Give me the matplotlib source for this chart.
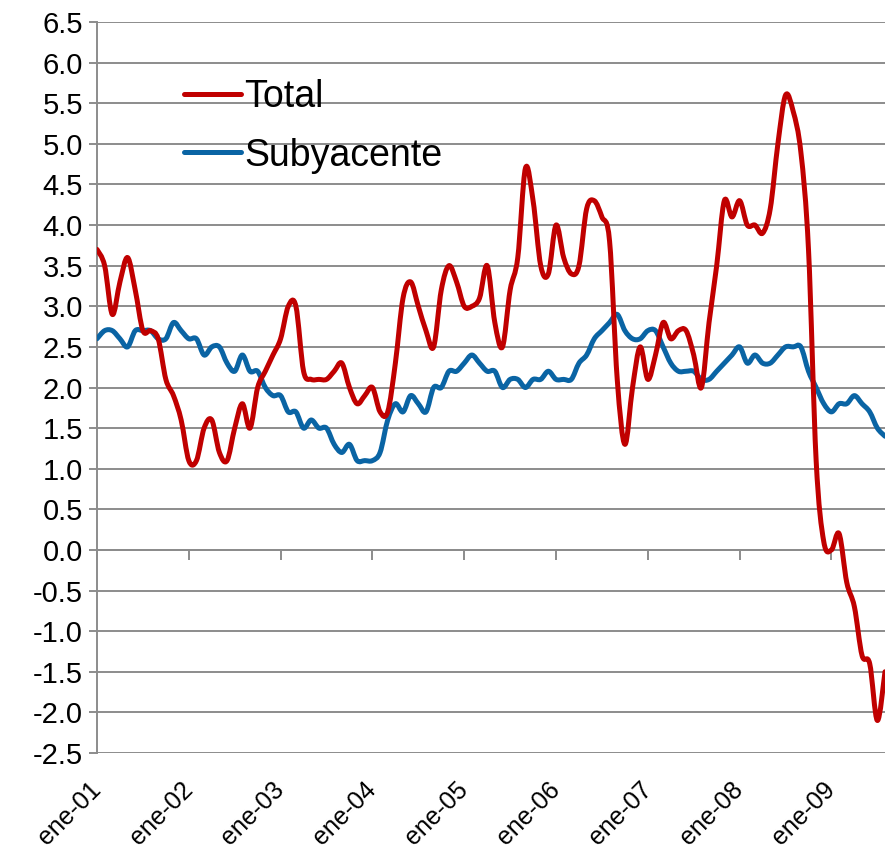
import numpy as np
import matplotlib
matplotlib.use('Agg')
import matplotlib.pyplot as plt
import matplotlib.ticker as mticker
from matplotlib.path import Path
from matplotlib.patches import PathPatch
from matplotlib.lines import Line2D

plt.rcParams['font.family'] = ['Liberation Sans', 'DejaVu Sans']

# monthly year-on-year inflation, ene-01 .. ago-09
total = [3.7, 3.5, 2.9, 3.3, 3.6, 3.2, 2.7, 2.7, 2.6, 2.1, 1.9, 1.6,
         1.1, 1.1, 1.5, 1.6, 1.2, 1.1, 1.5, 1.8, 1.5, 2.0, 2.2, 2.4,
         2.6, 3.0, 3.0, 2.2, 2.1, 2.1, 2.1, 2.2, 2.3, 2.0, 1.8, 1.9,
         2.0, 1.7, 1.7, 2.3, 3.1, 3.3, 3.0, 2.7, 2.5, 3.2, 3.5, 3.3,
         3.0, 3.0, 3.1, 3.5, 2.8, 2.5, 3.2, 3.6, 4.7, 4.3, 3.5, 3.4,
         4.0, 3.6, 3.4, 3.5, 4.2, 4.3, 4.1, 3.8, 2.1, 1.3, 2.0, 2.5,
         2.1, 2.4, 2.8, 2.6, 2.7, 2.7, 2.4, 2.0, 2.8, 3.5, 4.3, 4.1,
         4.3, 4.0, 4.0, 3.9, 4.2, 5.0, 5.6, 5.4, 4.9, 3.7, 1.1, 0.1,
         0.0, 0.2, -0.4, -0.7, -1.3, -1.4, -2.1, -1.5]
subyacente = [2.6, 2.7, 2.7, 2.6, 2.5, 2.7, 2.7, 2.7, 2.6, 2.6, 2.8, 2.7,
              2.6, 2.6, 2.4, 2.5, 2.5, 2.3, 2.2, 2.4, 2.2, 2.2, 2.0, 1.9,
              1.9, 1.7, 1.7, 1.5, 1.6, 1.5, 1.5, 1.3, 1.2, 1.3, 1.1, 1.1,
              1.1, 1.2, 1.6, 1.8, 1.7, 1.9, 1.8, 1.7, 2.0, 2.0, 2.2, 2.2,
              2.3, 2.4, 2.3, 2.2, 2.2, 2.0, 2.1, 2.1, 2.0, 2.1, 2.1, 2.2,
              2.1, 2.1, 2.1, 2.3, 2.4, 2.6, 2.7, 2.8, 2.9, 2.7, 2.6, 2.6,
              2.7, 2.7, 2.5, 2.3, 2.2, 2.2, 2.2, 2.1, 2.1, 2.2, 2.3, 2.4,
              2.5, 2.3, 2.4, 2.3, 2.3, 2.4, 2.5, 2.5, 2.5, 2.2, 2.0, 1.8,
              1.7, 1.8, 1.8, 1.9, 1.8, 1.7, 1.5, 1.4]
year_labels = ['ene-01', 'ene-02', 'ene-03', 'ene-04', 'ene-05',
               'ene-06', 'ene-07', 'ene-08', 'ene-09']

months = np.arange(len(total))
grey = '#8c8c8c'
red = '#c00000'
blue = '#0a64a4'


def smooth_line(ax, x, y, color, z):
    # Excel-style "smoothed line": cubic Bezier through every data point
    pts = np.column_stack([x, y]).astype(float)
    n = len(pts)
    verts = [pts[0]]
    codes = [Path.MOVETO]
    for i in range(n - 1):
        p0 = pts[max(i - 1, 0)]
        p1 = pts[i]
        p2 = pts[i + 1]
        p3 = pts[min(i + 2, n - 1)]
        verts += [p1 + (p2 - p0) / 6, p2 - (p3 - p1) / 6, p2]
        codes += [Path.CURVE4] * 3
    patch = PathPatch(Path(verts, codes), facecolor='none', edgecolor=color,
                      lw=3.6, joinstyle='round', capstyle='round', zorder=z)
    ax.add_patch(patch)


fig = plt.figure(figsize=(8.85, 8.51), dpi=100)
ax = fig.add_axes([0.1096, 0.1152, 0.8904, 0.8589])

smooth_line(ax, months, subyacente, blue, 3)
smooth_line(ax, months, total, red, 4)

ax.set_xlim(0, len(total) - 1)
ax.set_ylim(-2.5, 6.5)
ax.yaxis.set_major_locator(mticker.MultipleLocator(0.5))
ax.yaxis.set_major_formatter(mticker.FormatStrFormatter('%.1f'))
ax.grid(axis='y', color=grey, lw=1.4)
ax.set_axisbelow(True)

for s in ['top', 'right']:
    ax.spines[s].set_visible(False)
ax.spines['left'].set_color(grey)
ax.spines['left'].set_linewidth(1.4)
# category axis crosses at zero, labels stay at the bottom
ax.spines['bottom'].set_position(('data', 0))
ax.spines['bottom'].set_color(grey)
ax.spines['bottom'].set_linewidth(1.4)
ax.set_xticks(months[::12])
ax.tick_params(axis='x', direction='out', length=7, width=1.4, color=grey,
               labelbottom=False)
ax.tick_params(axis='y', direction='out', length=6, width=1.4, color=grey,
               labelsize=21, pad=4)

sec = ax.secondary_xaxis('bottom')
sec.set_xticks(months[::12])
sec.set_xticklabels(year_labels, rotation=45, ha='right', va='center',
                    rotation_mode='anchor', fontsize=18)
sec.tick_params(length=0, pad=24)
sec.spines['bottom'].set_visible(False)

handles = [Line2D([], [], color=red, lw=3.6, solid_capstyle='round'),
           Line2D([], [], color=blue, lw=3.6, solid_capstyle='round')]
ax.legend(handles, ['Total', 'Subyacente'], loc='upper left',
          bbox_to_anchor=(0.111, 0.922), frameon=False, fontsize=27,
          handlelength=1.5, handletextpad=0.1, labelspacing=0.6,
          borderpad=0, borderaxespad=0)

plt.savefig('out.png', dpi=100)
